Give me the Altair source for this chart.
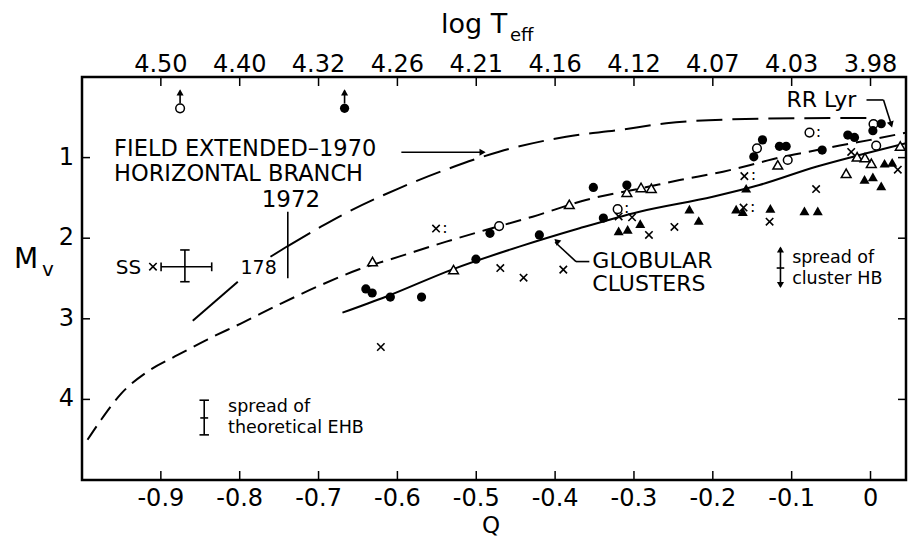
import altair as alt
import pandas as pd

# ---------------- axis ticks / labels ----------------
q_ticks = [-0.9, -0.8, -0.7, -0.6, -0.5, -0.4, -0.3, -0.2, -0.1, 0.0]
q_labels = ["-0.9", "-0.8", "-0.7", "-0.6", "-0.5", "-0.4", "-0.3", "-0.2", "-0.1", "0"]
teff_labels = ["4.50", "4.40", "4.32", "4.26", "4.21", "4.16", "4.12", "4.07", "4.03", "3.98"]
mv_ticks = [1, 2, 3, 4]
mv_labels = ["1", "2", "3", "4"]

# ---------------- curves ----------------
field1970_q = [-0.739, -0.697, -0.670, -0.598, -0.534, -0.471, -0.386, -0.3185, -0.259, -0.175, -0.090, -0.005]
field1970_mv = [2.097, 1.857, 1.712, 1.381, 1.133, 0.927, 0.741, 0.658, 0.574, 0.525, 0.512, 0.509]
ext1972_q = [-0.8595, -0.8024, -0.761, -0.739]
ext1972_mv = [3.024, 2.540, 2.230, 2.097]
ext1972_seg = [1, 1, 2, 2]
theory_q = [-0.993, -0.976, -0.950, -0.917, -0.8785, -0.8405, -0.798, -0.747, -0.697, -0.6485,
            -0.598, -0.538, -0.488, -0.4285, -0.361, -0.285, -0.242, -0.187, -0.140, -0.112,
            -0.080, -0.039, 0.000, 0.045]
theory_mv = [4.50, 4.256, 3.925, 3.656, 3.449, 3.254, 3.056, 2.808, 2.581, 2.386,
             2.229, 2.043, 1.898, 1.733, 1.526, 1.369, 1.278, 1.175, 1.06, 0.99,
             0.93, 0.85, 0.78, 0.69]
glob_q = [-0.6697, -0.6146, -0.530, -0.4454, -0.369, -0.293, -0.200, -0.141, -0.069, -0.014, 0.045]
glob_mv = [2.924, 2.726, 2.386, 2.105, 1.877, 1.671, 1.485, 1.340, 1.113, 0.968, 0.823]

# ---------------- data points ----------------
fcirc_q = [-0.3515, -0.309, -0.3388, -0.420, -0.4826, -0.5004, -0.640, -0.632, -0.609, -0.5694,
           -0.137, -0.148, -0.1155, -0.107, -0.0613, -0.0288, -0.0203, 0.0136, 0.003, -0.667]
fcirc_mv = [1.37, 1.34, 1.75, 1.96, 1.94, 2.26, 2.63, 2.68, 2.73, 2.73,
            0.78, 0.99, 0.86, 0.86, 0.906, 0.72, 0.75, 0.58, 0.666, 0.389]
ocirc_q = [-0.471, -0.144, -0.105, 0.0038, 0.0072, -0.8756, -0.3207, -0.0774]
ocirc_mv = [1.85, 0.885, 1.03, 0.583, 0.852, 0.389, 1.64, 0.69]
otri_q = [-0.382, -0.6316, -0.5288, -0.309, -0.291, -0.278, -0.1176, -0.0309, 0.001, -0.017, -0.007, 0.0377]
otri_mv = [1.58, 2.29, 2.39, 1.43, 1.37, 1.38, 1.09, 1.195, 1.07, 0.99, 1.0, 0.856]
ftri_q = [-0.3194, -0.308, -0.292, -0.2297, -0.2179, -0.1577, -0.1704, -0.162, -0.127, -0.0838,
          -0.0669, -0.0076, 0.003, 0.0136, 0.0178, 0.0275]
ftri_mv = [1.91, 1.89, 1.82, 1.64, 1.78, 1.38, 1.64, 1.67, 1.63, 1.66,
           1.66, 1.27, 1.24, 1.35, 1.07, 1.06]
cross_q = [-0.4695, -0.440, -0.3896, -0.621, -0.3194, -0.3024, -0.281, -0.2487, -0.128, -0.069,
           -0.0245, 0.0346, -0.551, -0.160, -0.161, -0.910]
cross_mv = [2.37, 2.49, 2.39, 3.35, 1.73, 1.74, 1.96, 1.86, 1.795, 1.39,
            0.93, 1.15, 1.88, 1.23, 1.62, 2.354]
colon_q = [-0.551, -0.160, -0.161, -0.3207, -0.0774]
colon_mv = [1.88, 1.23, 1.62, 1.64, 0.69]

# ---------------- annotation segments (error bars, pointers) ----------------
seg_q1 = [-0.595, -0.739, -0.8997, -0.8997, -0.8355, -0.8695, -0.8755, -0.8755, -0.845, -0.851, -0.851, -0.850,
          -0.1142, -0.119, -0.8756, -0.667, -0.0051, 0.0165, -0.3566, -0.3735]
seg_m1 = [0.934, 1.671, 2.354, 2.30, 2.30, 2.146, 2.146, 2.54, 4.01, 4.01, 4.44, 4.23,
          2.12, 2.37, 0.33, 0.33, 0.285, 0.285, 2.29, 2.29]
seg_q2 = [-0.49, -0.739, -0.8355, -0.8997, -0.8355, -0.8695, -0.8635, -0.8635, -0.845, -0.839, -0.839, -0.840,
          -0.1142, -0.1094, -0.8756, -0.667, 0.0165, 0.0266, -0.3735, -0.400]
seg_m2 = [0.934, 2.497, 2.354, 2.41, 2.41, 2.54, 2.146, 2.54, 4.44, 4.01, 4.44, 4.23,
          2.60, 2.37, 0.17, 0.17, 0.285, 0.60, 2.29, 2.05]
head_q = [-0.492, -0.8756, -0.667, -0.1142, -0.1142, 0.0262, -0.398]
head_mv = [0.934, 0.19, 0.19, 2.14, 2.58, 0.59, 2.035]
head_ang = [90, 0, 0, 0, 180, 163, 313]

FONT = "DejaVu Sans"
W, H = 824, 403
xs = alt.Scale(domain=[-1.0, 0.045], nice=False, zero=False)
ys = alt.Scale(domain=[0, 5], reverse=True, nice=False, zero=False)
X = alt.X("Q:Q", scale=xs, axis=None)
Y = alt.Y("Mv:Q", scale=ys, axis=None)


def df(q, m, **extra):
    d = {"Q": q, "Mv": m}
    d.update(extra)
    return pd.DataFrame(d)


# inward ticks on all four sides
bottom = alt.Chart(df(q_ticks, [0] * len(q_ticks))).mark_rule(color="black", strokeWidth=1.5).encode(
    x=X, y=alt.value(H), y2=alt.value(H - 9))
top = alt.Chart(df(q_ticks, [0] * len(q_ticks))).mark_rule(color="black", strokeWidth=1.5).encode(
    x=X, y=alt.value(0), y2=alt.value(9))
left = alt.Chart(df([0] * 4, mv_ticks)).mark_rule(color="black", strokeWidth=1.5).encode(
    y=Y, x=alt.value(0), x2=alt.value(8))
right = alt.Chart(df([0] * 4, mv_ticks)).mark_rule(color="black", strokeWidth=1.5).encode(
    y=Y, x=alt.value(W), x2=alt.value(W - 8))

# tick labels
top_labels = alt.Chart(df(q_ticks, [0] * len(q_ticks), t=teff_labels)).mark_text(
    font=FONT, fontSize=24, baseline="alphabetic", align="center", color="black").encode(
    x=X, y=alt.value(-5), text="t:N")
bottom_labels = alt.Chart(df(q_ticks, [0] * len(q_ticks), t=q_labels)).mark_text(
    font=FONT, fontSize=24, baseline="alphabetic", align="center", color="black").encode(
    x=X, y=alt.value(H + 26), text="t:N")
left_labels = alt.Chart(df([0] * 4, mv_ticks, t=mv_labels)).mark_text(
    font=FONT, fontSize=24, baseline="middle", align="right", color="black").encode(
    y=Y, x=alt.value(-8), text="t:N")

# curves
c1970 = alt.Chart(df(field1970_q, field1970_mv)).mark_line(
    color="black", strokeWidth=2, strokeDash=[26, 10], interpolate="monotone", clip=True).encode(x=X, y=Y)
c1972 = alt.Chart(df(ext1972_q, ext1972_mv, s=ext1972_seg)).mark_line(
    color="black", strokeWidth=2, interpolate="monotone").encode(x=X, y=Y, detail="s:N")
ctheory = alt.Chart(df(theory_q, theory_mv)).mark_line(
    color="black", strokeWidth=2, strokeDash=[16, 8], interpolate="monotone", clip=True).encode(x=X, y=Y)
cglob = alt.Chart(df(glob_q, glob_mv)).mark_line(
    color="black", strokeWidth=2, interpolate="monotone", clip=True).encode(x=X, y=Y)

# segments / arrowheads
segs = alt.Chart(df(seg_q1, seg_m1, Q2=seg_q2, M2=seg_m2)).mark_rule(color="black", strokeWidth=1.6).encode(
    x=X, y=Y, x2="Q2:Q", y2="M2:Q")
heads = alt.Chart(df(head_q, head_mv, a=head_ang)).mark_point(
    shape="triangle-up", filled=True, color="black", size=50, opacity=1).encode(
    x=X, y=Y, angle=alt.Angle("a:Q", scale=None))

# points
CROSS = "M-1,-1L1,1M-1,1L1,-1"
p_fc = alt.Chart(df(fcirc_q, fcirc_mv)).mark_point(shape="circle", filled=True, color="black", size=85,
                                                    opacity=1).encode(x=X, y=Y)
p_oc = alt.Chart(df(ocirc_q, ocirc_mv)).mark_point(shape="circle", fill="white", stroke="black", strokeWidth=1.5,
                                                    size=75, opacity=1, fillOpacity=1).encode(x=X, y=Y)
p_ot = alt.Chart(df(otri_q, otri_mv)).mark_point(shape="triangle-up", fill="white", stroke="black",
                                                  strokeWidth=1.5, size=95, opacity=1, fillOpacity=1).encode(x=X, y=Y)
p_ft = alt.Chart(df(ftri_q, ftri_mv)).mark_point(shape="triangle-up", filled=True, color="black", size=100,
                                                  opacity=1).encode(x=X, y=Y)
p_x = alt.Chart(df(cross_q, cross_mv)).mark_point(shape=CROSS, filled=False, color="black", strokeWidth=1.6,
                                                   size=55, opacity=1).encode(x=X, y=Y)
p_colon = alt.Chart(df(colon_q, colon_mv)).mark_text(text=":", font=FONT, fontSize=16, dx=9, dy=-1,
                                                      color="black").encode(x=X, y=Y)


# texts (annotation labels, placed in data coordinates)
def txt(q, m, s, size, align="left"):
    return alt.Chart(df([q], [m], t=[s])).mark_text(font=FONT, fontSize=size, align=align, baseline="middle",
                                                     color="black").encode(x=X, y=Y, text="t:N")


texts = [
    txt(-0.9593, 0.895, "FIELD EXTENDED\u20131970", 22.5),
    txt(-0.9593, 1.2, "HORIZONTAL BRANCH", 22.5),
    txt(-0.735, 1.52, "1972", 23, "center"),
    txt(-0.941, 2.373, "SS", 20, "center"),
    txt(-0.776, 2.37, "178", 19, "center"),
    txt(-0.1066, 0.285, "RR Lyr", 22),
    txt(-0.3528, 2.28, "GLOBULAR", 22),
    txt(-0.3528, 2.57, "CLUSTERS", 22),
    txt(-0.8147, 4.09, "spread of", 17.5),
    txt(-0.8147, 4.36, "theoretical EHB", 17.5),
    txt(-0.0994, 2.25, "spread of", 17.5),
    txt(-0.0994, 2.51, "cluster HB", 17.5),
]


# axis titles (pixel placement around the frame)
def ptxt(x, y, s, size, align="left", baseline="alphabetic"):
    return alt.Chart(df([0], [0], t=[s])).mark_text(font=FONT, fontSize=size, align=align, baseline=baseline,
                                                     color="black").encode(x=alt.value(x), y=alt.value(y),
                                                                           text="t:N")


titles = [
    ptxt(359, -44, "log T", 27),
    ptxt(428, -36, "eff", 18),
    ptxt(-68, 191, "M", 28),
    ptxt(-40, 199, "v", 20),
    ptxt(409, 456, "Q", 23, "center"),
]

chart = alt.layer(
    bottom, top, left, right, top_labels, bottom_labels, left_labels,
    c1970, c1972, ctheory, cglob, segs, heads,
    p_x, p_ft, p_oc, p_ot, p_fc, p_colon,
    *texts, *titles
).properties(
    width=W, height=H,
    autosize=alt.AutoSizeParams(type="none"),
    padding={"left": 82, "top": 77, "right": 18, "bottom": 57},
    background="white",
).configure_view(stroke="black", strokeWidth=2.5)

chart.save("out.html", embed_options={"renderer": "svg", "actions": False})
